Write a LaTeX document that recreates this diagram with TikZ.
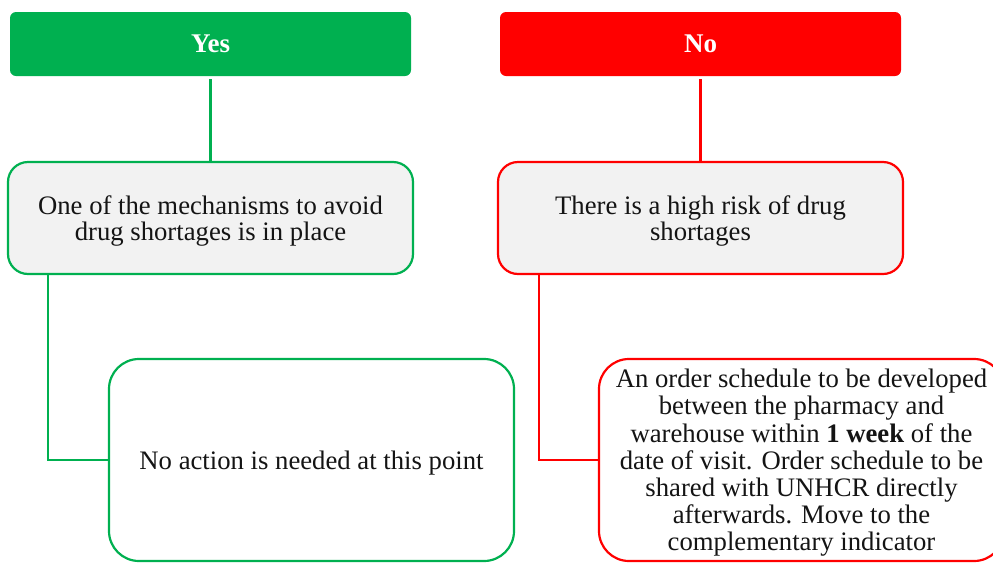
\documentclass[tikz,border=0pt]{standalone}
\usepackage{fontspec}
\setmainfont{Liberation Serif}
\definecolor{okgreen}{HTML}{00B050}
\definecolor{alertred}{HTML}{FF0000}
\definecolor{panelgray}{HTML}{F2F2F2}
\begin{document}
\begin{tikzpicture}[x=1pt,y=-1pt,
  every node/.style={inner sep=0pt,outer sep=0pt,align=center},
  bodytext/.style={font=\fontsize{26.7}{26.5}\selectfont,text=black!92},
  header/.style={rectangle,rounded corners=6pt,minimum width=401pt,minimum height=64pt,
    text=white,font=\fontsize{27}{27}\selectfont\bfseries},
  statusbox/.style={rectangle,rounded corners=20pt,line width=2.2pt,fill=panelgray,
    minimum width=405pt,minimum height=112pt},
  actionbox/.style={rectangle,rounded corners=30pt,line width=2.2pt,fill=white,
    minimum width=405pt,minimum height=202pt},
  link/.style={line width=2.2pt}]
\useasboundingbox (0,0) rectangle (993,563);

% Yes branch
\node[header,fill=okgreen] (yes) at (210.5,44) {Yes};
\node[statusbox,draw=okgreen] (yesdesc) at (210.5,218) {};
\node[bodytext,yshift=-3pt] (yesdesctext) at (yesdesc.center)
  {One of the mechanisms to avoid\\drug shortages is in place};
\node[actionbox,draw=okgreen] (yesact) at (311.5,460) {};
\node[bodytext,yshift=-3pt] (yesacttext) at (yesact.center)
  {No action is needed at this point};

% No branch
\node[header,fill=alertred] (no) at (700.5,44) {No};
\node[statusbox,draw=alertred] (nodesc) at (700.5,218) {};
\node[bodytext,yshift=-3pt] (nodesctext) at (nodesc.center)
  {There is a high risk of drug\\shortages};
\node[actionbox,draw=alertred] (noact) at (801.5,460) {};
\node[bodytext,font=\fontsize{26.7}{27.2}\selectfont,yshift=-3pt] (noacttext) at (noact.center)
  {An order schedule to be developed\\between the pharmacy and\\warehouse within \textbf{1 week} of the\\date of visit. Order schedule to be\\shared with UNHCR directly\\afterwards. Move to the\\complementary indicator};

% connectors
\draw[link,okgreen,shorten <=3pt] (yes.south) -- (yesdesc.north);
\draw[link,alertred,shorten <=3pt] (no.south) -- (nodesc.north);
\draw[link,okgreen] ([xshift=40pt]yesdesc.south west) |- (yesact.west);
\draw[link,alertred] ([xshift=41pt]nodesc.south west) |- (noact.west);
\end{tikzpicture}
\end{document}
